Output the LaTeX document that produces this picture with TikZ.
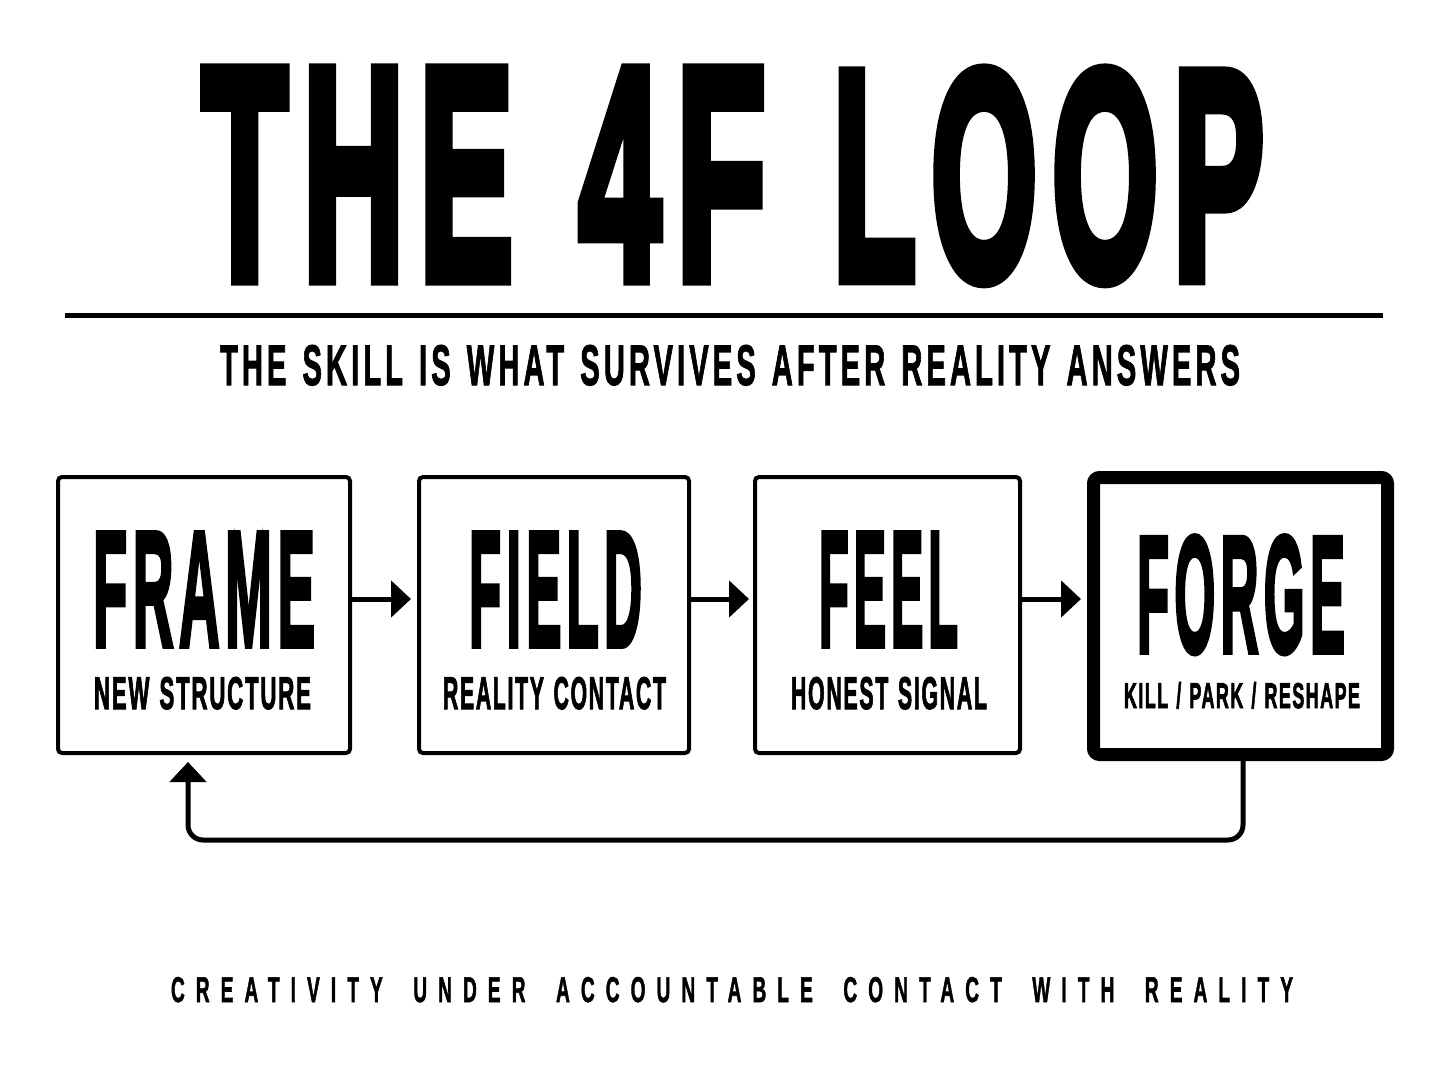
\documentclass[tikz,border=0pt]{standalone}
\usepackage{fontspec}
\usepackage{graphicx}
\usetikzlibrary{arrows.meta}
\newcommand\mkfonts[2]{%
  \newfontfamily\hfA{#1}[#2,FakeBold=5,LetterSpace=11]%
  \newfontfamily\hfE{#1}[#2,FakeBold=3.5,LetterSpace=10]%
  \newfontfamily\hfB{#1}[#2,FakeBold=2,LetterSpace=14]%
  \newfontfamily\hfC{#1}[#2,FakeBold=2.5,LetterSpace=8]%
  \newfontfamily\hfD{#1}[#2,FakeBold=2,LetterSpace=58]}
\IfFontExistsTF{FiraSans-Heavy.otf}
  {\mkfonts{FiraSans-Heavy.otf}{Ligatures=TeX}}
  {\mkfonts{Liberation Sans Bold}{Ligatures=TeX}}
\newcommand\sgap{\hspace{0.55em}}
\newcommand\tgap{\hspace{1.6em}}
\newcommand\lgap{\hspace{0.45em}}
\tikzset{
  txt/.style={anchor=base west,inner sep=0pt,outer sep=0pt},
  stage/.style={draw=black,line width=2pt,rounded corners=2pt,fill=white,inner sep=0pt},
  finalstage/.style={stage,line width=6.5pt,rounded corners=3pt},
  arr/.style={line width=2.5pt,-{Triangle[length=10pt,width=18pt]}},
}
\begin{document}
\begin{tikzpicture}[x=0.5pt,y=-0.5pt]
\fill[white] (0,0) rectangle (1448,1086);
\path[use as bounding box] (0,0) rectangle (1448,1086);
% title
\node[txt] (t1) at (202,278) {\resizebox{155.5pt}{103.5pt}{\hfA THE}};
\node[txt] (t2) at (579,278) {\resizebox{93.5pt}{103.5pt}{\hfA 4F}};
\node[txt] (t3) at (833,278) {\resizebox{215.5pt}{103.5pt}{\hfA LOOP}};
\draw[line width=2.5pt] (65,316) -- (1383,316);
\node[txt] (sub) at (220,385) {\resizebox{510pt}{20pt}{\hfB THE\sgap SKILL\sgap IS\sgap WHAT\sgap SURVIVES\sgap AFTER\sgap REALITY\sgap ANSWERS}};
% boxes
\node[stage,minimum width=146pt,minimum height=138pt] (frame) at (204,615) {};
\node[stage,minimum width=135pt,minimum height=138pt] (field) at (554,615) {};
\node[stage,minimum width=132.5pt,minimum height=138pt] (feel) at (887.5,615) {};
\node[finalstage,minimum width=147pt,minimum height=138.5pt] (forge) at (1240.5,616) {};
% labels
\node[txt] (l1) at (93,646) {\resizebox{111pt}{56.5pt}{\hfE FRAME}};
\node[txt] (s1) at (94,709) {\resizebox{108.5pt}{16pt}{\hfC NEW\lgap STRUCTURE}};
\node[txt] (l2) at (469,646) {\resizebox{86.5pt}{56.5pt}{\hfE FIELD}};
\node[txt] (s2) at (443,709) {\resizebox{111.5pt}{16pt}{\hfC REALITY\lgap CONTACT}};
\node[txt] (l3) at (819,646) {\resizebox{69.5pt}{56.5pt}{\hfE FEEL}};
\node[txt] (s3) at (791,709) {\resizebox{98pt}{16pt}{\hfC HONEST\lgap SIGNAL}};
\node[txt] (l4) at (1137,652) {\resizebox{104pt}{58pt}{\hfE FORGE}};
\node[txt] (s4) at (1124,708) {\resizebox{118pt}{13pt}{\hfC KILL\lgap /\lgap PARK\lgap /\lgap RESHAPE}};
% connectors
\draw[arr,shorten >=3pt] ([yshift=8pt]frame.east) -- ([yshift=8pt]field.west);
\draw[arr,shorten >=2pt] ([yshift=8pt]field.east) -- ([yshift=8pt]feel.west);
\draw[arr,shorten >=3pt] ([yshift=8pt]feel.east) -- ([yshift=8pt]feel.east -| forge.west);
\coordinate (back) at (0,840);
\draw[arr,rounded corners=7.5pt,shorten >=3.5pt]
  ([xshift=1.25pt]forge.south) -- ([xshift=1.25pt]forge.south |- back)
  -- ([xshift=-8pt]frame.south |- back) -- ([xshift=-8pt]frame.south);
% tagline
\node[txt] (tag) at (171,1002) {\resizebox{561pt}{12.5pt}{\hfD CREATIVITY\tgap UNDER\tgap ACCOUNTABLE\tgap CONTACT\tgap WITH\tgap REALITY}};
\end{tikzpicture}
\end{document}
